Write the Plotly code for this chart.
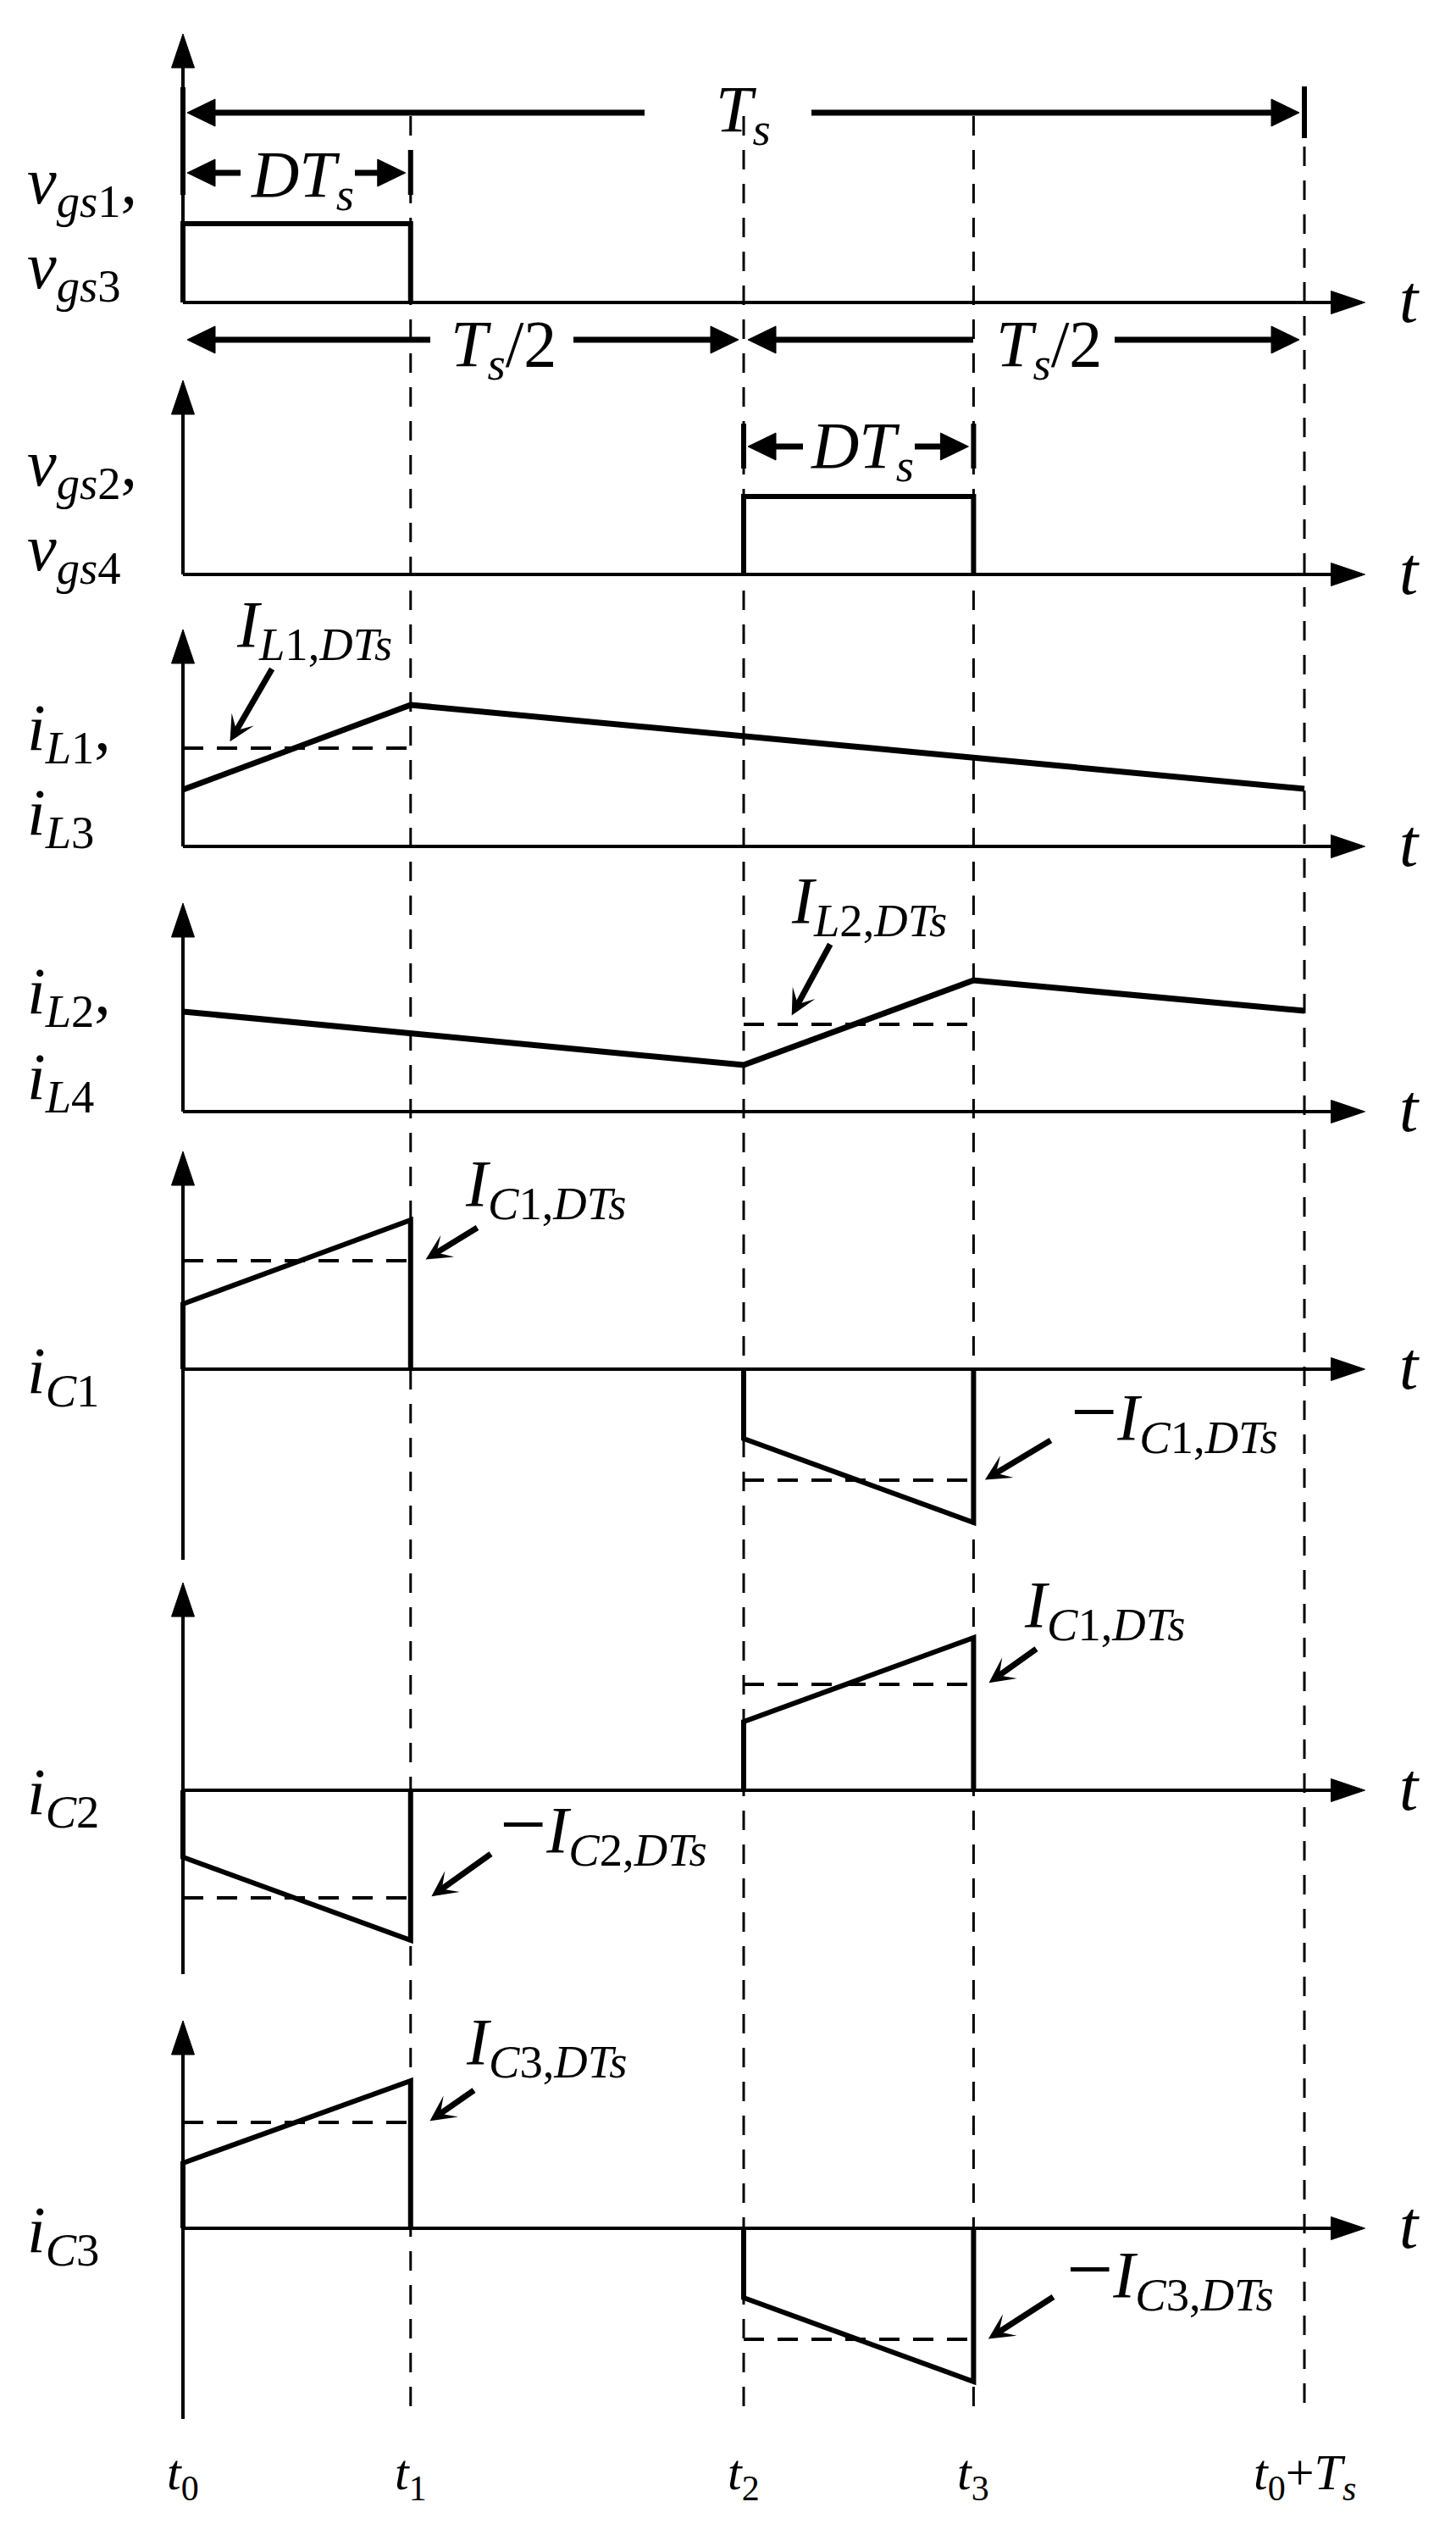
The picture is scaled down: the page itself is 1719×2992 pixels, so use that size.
import plotly.graph_objects as go

W, H = 1719, 2992
FONT = "Liberation Serif, Times New Roman, serif"

# ---------------- data (time in units of Ts, amplitudes in arbitrary units) ----------------
t_marks = [0.0, 0.203, 0.5, 0.705, 1.0]          # t0, t1, t2, t3, t0+Ts
t_labels = ["<i>t</i><sub>0</sub>", "<i>t</i><sub>1</sub>", "<i>t</i><sub>2</sub>",
            "<i>t</i><sub>3</sub>", "<i>t</i><sub>0</sub>+<i>T<sub>s</sub></i>"]
t_axis_end = 1.054

vgs13_t = [0.0, 0.0, 0.203, 0.203]
vgs13_v = [0.0, 0.93, 0.93, 0.0]
vgs24_t = [0.5, 0.5, 0.705, 0.705]
vgs24_v = [0.0, 0.92, 0.92, 0.0]
iL13_t = [0.0, 0.203, 1.0]
iL13_v = [0.67, 1.67, 0.68]
iL24_t = [0.0, 0.5, 0.705, 1.0]
iL24_v = [1.18, 0.55, 1.55, 1.19]
# capacitor currents: two separate pulses (None = gap, current is zero in between)
iC_t = [0.0, 0.0, 0.203, 0.203, None, 0.5, 0.5, 0.705, 0.705]
iC1_v = [0.0, 0.77, 1.76, 0.0, None, 0.0, -0.82, -1.81, 0.0]
iC2_v = [0.0, -0.79, -1.77, 0.0, None, 0.0, 0.81, 1.80, 0.0]
iC3_v = [0.0, 0.77, 1.74, 0.0, None, 0.0, -0.82, -1.81, 0.0]

# dashed average levels
avg_panel = [2, 3, 4, 4, 5, 5, 6, 6]
avg_t0 = [0.0, 0.5, 0.0, 0.5, 0.0, 0.5, 0.0, 0.5]
avg_t1 = [0.203, 0.705, 0.203, 0.705, 0.203, 0.705, 0.203, 0.705]
avg_val = [1.16, 1.03, 1.28, -1.31, -1.27, 1.25, 1.25, -1.31]
MINUS = '<span style="font-size:98px">−</span>'
avg_text = ["<i>I</i><sub><i>L</i>1,<i>DTs</i></sub>", "<i>I</i><sub><i>L</i>2,<i>DTs</i></sub>",
            "<i>I</i><sub><i>C</i>1,<i>DTs</i></sub>", MINUS + "<i>I</i><sub><i>C</i>1,<i>DTs</i></sub>",
            MINUS + "<i>I</i><sub><i>C</i>2,<i>DTs</i></sub>", "<i>I</i><sub><i>C</i>1,<i>DTs</i></sub>",
            "<i>I</i><sub><i>C</i>3,<i>DTs</i></sub>", MINUS + "<i>I</i><sub><i>C</i>3,<i>DTs</i></sub>"]

# y-axis extents per panel
axis_top = [3.17, 2.29, 2.56, 2.46, 2.57, 2.45, 2.45]
axis_bottom = [0.0, 0.0, 0.0, 0.0, -2.25, -2.17, -2.25]

panel_labels = ["<i>v</i><sub><i>gs</i>1</sub>,", "<i>v</i><sub><i>gs</i>3</sub>",
                "<i>v</i><sub><i>gs</i>2</sub>,", "<i>v</i><sub><i>gs</i>4</sub>",
                "<i>i</i><sub><i>L</i>1</sub>,", "<i>i</i><sub><i>L</i>3</sub>",
                "<i>i</i><sub><i>L</i>2</sub>,", "<i>i</i><sub><i>L</i>4</sub>",
                "<i>i</i><sub><i>C</i>1</sub>", "<i>i</i><sub><i>C</i>2</sub>",
                "<i>i</i><sub><i>C</i>3</sub>"]

# ---------------- layout geometry ----------------
X0 = 216.0      # px of t0
PXT = 1324.0    # px per Ts
K = 100.0       # px per amplitude unit
BASE = [357, 678, 999, 1312, 1616, 2113, 2630]   # px of each panel's zero line


def t_of(px):
    return (px - X0) / PXT


def v_of(i, py):
    return (BASE[i] - py) / K


def yname(i):
    return "y" if i == 0 else f"y{i + 1}"


fig = go.Figure()


def add_line(x, y, i, width, dash="solid"):
    fig.add_trace(go.Scatter(x=x, y=y, mode="lines", yaxis=yname(i), xaxis="x",
                             line=dict(color="black", width=width, dash=dash),
                             connectgaps=False, hoverinfo="skip", showlegend=False))


def add_poly(x, y, i):
    fig.add_trace(go.Scatter(x=x + [x[0]], y=y + [y[0]], mode="lines", fill="toself",
                             fillcolor="black", yaxis=yname(i), xaxis="x",
                             line=dict(color="black", width=1),
                             hoverinfo="skip", showlegend=False))


def head_up(i, xt, ytip, L=40, hw=13.5):
    add_poly([xt - hw / PXT, xt, xt + hw / PXT], [ytip - L / K, ytip, ytip - L / K], i)


def head_h(i, xtip, y, direction, L=40, hw=13.5):
    xb = xtip - direction * L / PXT
    add_poly([xb, xtip, xb], [y + hw / K, y, y - hw / K], i)


# vertical dashed time markers
for j in range(1, 5):
    top = 173 if j == 4 else 137
    add_line([t_marks[j]] * 2, [v_of(0, top), v_of(0, 2847)], 0, 3, "23px,17px")

# axes
for i in range(7):
    add_line([0, 0], [axis_bottom[i], axis_top[i] - 0.36], i, 4)
    head_up(i, 0.0, axis_top[i])
    add_line([0, t_axis_end - 36 / PXT], [0, 0], i, 4)
    head_h(i, t_axis_end, 0.0, 1)

# dashed average lines
for p, a, b, v in zip(avg_panel, avg_t0, avg_t1, avg_val):
    add_line([a, b], [v, v], p, 4, "24px,16px")

# waveforms
add_line(vgs13_t, vgs13_v, 0, 6)
add_line(vgs24_t, vgs24_v, 1, 6)
add_line(iL13_t, iL13_v, 2, 7)
add_line(iL24_t, iL24_v, 3, 7)
add_line(iC_t, iC1_v, 4, 6)
add_line(iC_t, iC2_v, 5, 6)
add_line(iC_t, iC3_v, 6, 6)

# dimension arrows: (panel, y px, t start, t end, gap left px, gap right px)
dims = [
    (0, 133, t_marks[0], t_marks[4], 761, 958),
    (0, 204, t_marks[0], t_marks[1], 284, 419),
    (0, 401, t_marks[0], t_marks[2], 508, 677),
    (0, 401, t_marks[2], t_marks[4], 1149, 1316),
    (1, 527, t_marks[2], t_marks[3], 948, 1080),
]
for p, ypx, ta, tb, gl, gr in dims:
    yv = v_of(p, ypx)
    xa = ta + 5 / PXT
    xb = tb - 6 / PXT
    add_line([xa + 20 / PXT, t_of(gl)], [yv, yv], p, 7)
    add_line([t_of(gr), xb - 20 / PXT], [yv, yv], p, 7)
    head_h(p, xa, yv, -1, L=33, hw=16)
    head_h(p, xb, yv, 1, L=33, hw=16)

# extension bars: (panel, t, top px, bottom px)
bars = [(0, t_marks[0], 103, 230), (0, t_marks[4], 102, 163), (0, t_marks[1], 177, 230),
        (1, t_marks[2], 500, 553), (1, t_marks[3], 500, 553)]
for p, tt, a, b in bars:
    add_line([tt, tt], [v_of(p, a), v_of(p, b)], p, 6)

annotations = []


def label(text, xpx, ypx, size=78, xanchor="left"):
    annotations.append(dict(text=text, x=xpx / W, y=1 - ypx / H, xref="paper", yref="paper",
                            showarrow=False, xanchor=xanchor, yanchor="middle",
                            font=dict(family=FONT, size=size, color="black")))


# pointer arrows to average lines: (target px x, ax, ay, standoff)
ptr = [(267, 55, -95, 9), (929, 52, -96, 12), (500, 65, -40, 3), (1162, 80, -48, 1),
       (507, 74, -53, 3), (1165, 60, -43, 3), (505, 56, -39, 3), (1166, 79, -51, 1)]
# label positions (left x px, centre y px)
ptr_lbl = [(277, 742), (932, 1068), (547, 1402), (1262, 1670),
           (588, 2156), (1207, 1899), (548, 2415), (1257, 2681)]
for p, v, txt, (tx, ax, ay, so), (lx, ly) in zip(avg_panel, avg_val, avg_text, ptr, ptr_lbl):
    annotations.append(dict(text="", x=t_of(tx), y=v, xref="x", yref=yname(p),
                            ax=ax, ay=ay, showarrow=True, arrowhead=3, arrowsize=0.72,
                            arrowwidth=7, arrowcolor="black", standoff=so))
    label(txt, lx, ly)

# panel labels
lbl_y = [219, 319, 552, 652, 864, 964, 1175, 1276, 1623, 2120, 2637]
for txt, ly in zip(panel_labels, lbl_y):
    label(txt, 30, ly)

# dimension texts
label("<i>T<sub>s</sub></i>", 877, 134, xanchor="center")
label("<i>DT<sub>s</sub></i>", 357, 211, xanchor="center")
label("<i>T<sub>s</sub></i>/2", 594, 411, xanchor="center")
label("<i>T<sub>s</sub></i>/2", 1238, 411, xanchor="center")
label("<i>DT<sub>s</sub></i>", 1018, 531, xanchor="center")

# 't' axis labels
for b in BASE:
    label("<i>t</i>", 1664, b - 4, size=80, xanchor="center")

# time tick labels
for tm, tl in zip(t_marks, t_labels):
    annotations.append(dict(text=tl, x=tm, y=1 - 2922 / H, xref="x", yref="paper",
                            showarrow=False, xanchor="center", yanchor="middle",
                            font=dict(family=FONT, size=60, color="black")))

layout = dict(width=W, height=H, margin=dict(l=0, r=0, t=0, b=0),
              paper_bgcolor="white", plot_bgcolor="white", showlegend=False,
              xaxis=dict(range=[t_of(0), t_of(W)], visible=False, fixedrange=True),
              annotations=annotations)
for i, B in enumerate(BASE):
    key = "yaxis" if i == 0 else f"yaxis{i + 1}"
    ax = dict(domain=[0, 1], range=[(B - H) / K, B / K], visible=False, fixedrange=True)
    if i > 0:
        ax["overlaying"] = "y"
    layout[key] = ax
fig.update_layout(**layout)

fig.write_html("out.html", config={"displayModeBar": False},
               post_script="document.body.style.margin='0';document.body.style.padding='0';")
